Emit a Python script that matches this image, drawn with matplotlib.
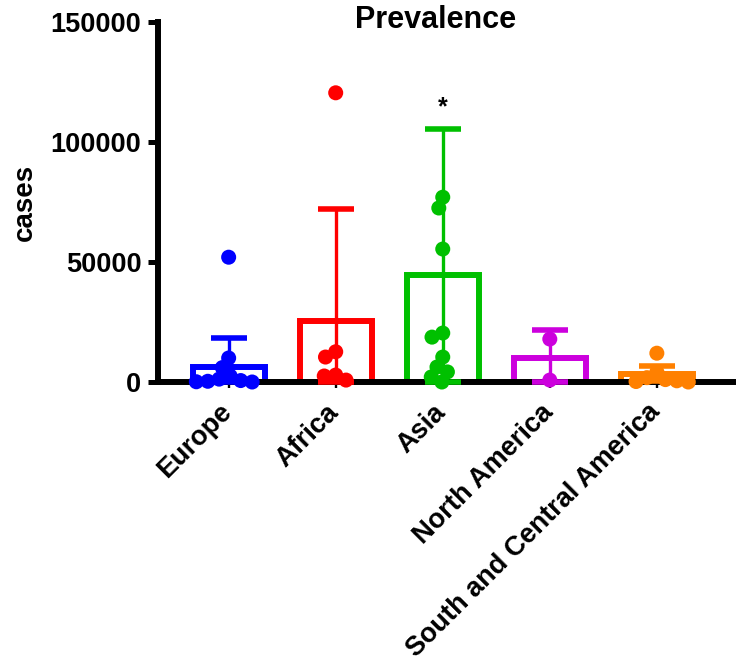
import numpy as np
import matplotlib
matplotlib.use("Agg")
import matplotlib.pyplot as plt
import matplotlib.transforms as mtransforms

plt.rcParams['font.family'] = ['Liberation Sans', 'DejaVu Sans']
plt.rcParams['font.weight'] = 'bold'

# ---- data ----
regions = ['Europe', 'Africa', 'Asia', 'North America', 'South and Central America']
colors = ['#0000FF', '#FF0000', '#00C000', '#CC00DD', '#FF8000']
means = [6400, 25500, 44600, 10000, 3500]
sds = [11900, 46500, 60800, 11700, 3200]

europe = [52000, 10000, 6000, 2500, 1200, 600, 300, 0, 100]
africa = [120500, 12600, 10400, 2900, 2500, 800]
asia = [77000, 72500, 55400, 20400, 18700, 10400, 6250, 4200, 2100, 0]
north_america = [17900, 800]
south_central_america = [12000, 4200, 1800, 1000, 500, 200, 0]
points = [europe, africa, asia, north_america, south_central_america]

yticks = [0, 50000, 100000, 150000]
ytick_labels = ['0', '50000', '100000', '150000']

# ---- figure ----
W, H = 736, 665
fig = plt.figure(figsize=(W / 100, H / 100), dpi=100)
ax_left, ax_right, ax_bottom, ax_top = 158, 735, 382, 22
ax = fig.add_axes([ax_left / W, 1 - ax_bottom / H, (ax_right - ax_left) / W, (ax_bottom - ax_top) / H])

xmin, xmax = -0.66, 4.73
ymin, ymax = 0, 150000
ax.set_xlim(xmin, xmax)
ax.set_ylim(ymin, ymax)

px_per_x = (ax_right - ax_left) / (xmax - xmin)
px_per_y = (ax_bottom - ax_top) / (ymax - ymin)
sep = 11.5  # minimum centre spacing in px for the swarm (dots may overlap a bit)


def swarm(values):
    placed = []
    offs = []
    for v in values:
        y = v * px_per_y
        cands = [0.0]
        for (xj, yj) in placed:
            dy = abs(y - yj)
            if dy < sep:
                dx = np.sqrt(sep ** 2 - dy ** 2)
                cands += [xj + dx, xj - dx]
        cands = sorted(cands, key=lambda c: (abs(c), c))
        for c in cands:
            ok = all((c - xj) ** 2 + (y - yj) ** 2 >= sep ** 2 - 1e-6 for xj, yj in placed)
            if ok:
                placed.append((c, y))
                offs.append(c)
                break
    return np.array(offs) / px_per_x


x = np.arange(len(regions))
ax.bar(x, means, width=0.67, facecolor='white', edgecolor=colors, linewidth=4.3, zorder=2)

for i in range(len(regions)):
    lower = min(sds[i], means[i])
    eb = ax.errorbar(x[i], means[i], yerr=[[lower], [sds[i]]], fmt='none', ecolor=colors[i],
                     elinewidth=2.4, capsize=13, capthick=4.0, zorder=3)
    for art in eb.lines[1] + eb.lines[2]:
        art.set_clip_on(False)
    offs = swarm(points[i])
    ax.scatter(x[i] + offs, points[i], s=117, color=colors[i], edgecolors='none',
               zorder=4, clip_on=False)

ax.text(2, 114600, '*', ha='center', va='center', fontsize=18, fontweight='bold')

for s in ['top', 'right']:
    ax.spines[s].set_visible(False)
for s in ['left', 'bottom']:
    ax.spines[s].set_linewidth(4.3)

ax.set_yticks(yticks)
ax.set_yticklabels(ytick_labels, fontsize=19.5, fontweight='bold')
ax.tick_params(axis='y', length=7, width=3.6, pad=5)
ax.set_xticks(x)
ax.set_xticklabels(regions, fontsize=19.5, fontweight='bold', rotation=45, ha='right',
                   rotation_mode='anchor')
ax.tick_params(axis='x', length=4.3, width=1.7, pad=8)
offset = mtransforms.ScaledTranslation(-10 / 100, 0, fig.dpi_scale_trans)
for lbl in ax.get_xticklabels():
    lbl.set_transform(lbl.get_transform() + offset)

fig.text(436 / W, 1 - 20 / H, 'Prevalence', ha='center', va='center', fontsize=22, fontweight='bold')
fig.text(25 / W, 1 - 202 / H, 'cases', ha='center', va='center', rotation=90, fontsize=20,
         fontweight='bold')

fig.savefig('out.png', dpi=100)
